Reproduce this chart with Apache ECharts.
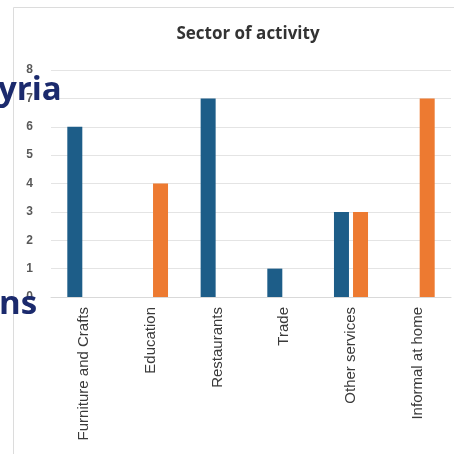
<!DOCTYPE html>
<html>
<head>
<meta charset="utf-8">
<script src="https://cdn.jsdelivr.net/npm/echarts@6/dist/echarts.min.js"></script>
<style>html,body{margin:0;padding:0;background:#fff}#c{width:454px;height:454px}</style>
</head>
<body>
<div id="c"></div>
<script>
const categories = ['Furniture and Crafts', 'Education', 'Restaurants', 'Trade', 'Other services', 'Informal at home'];
const seriesA = [6, 0, 7, 1, 3, 0];
const seriesB = [0, 4, 0, 0, 3, 7];
const yTicks = [0, 1, 2, 3, 4, 5, 6, 7, 8];

const chart = echarts.init(document.getElementById('c'), null, {renderer: 'canvas'});
chart.setOption({
  backgroundColor: '#ffffff',
  animation: false,
  title: {
    text: 'Sector of activity',
    left: 243, top: 21, textAlign: 'center',
    textStyle: {fontFamily: 'Open Sans', fontWeight: 'bold', fontSize: 17, color: '#333333'}
  },
  grid: {left: 51, right: 3, top: 70, bottom: 157},
  xAxis: {
    type: 'category', data: categories,
    axisLine: {lineStyle: {color: '#d9d9d9'}},
    axisTick: {show: false},
    axisLabel: {rotate: 90, margin: 10, fontFamily: 'Liberation Sans', fontSize: 15, color: '#3a3a3a', interval: 0}
  },
  yAxis: {
    type: 'value', min: yTicks[0], max: yTicks[yTicks.length - 1], interval: 1,
    axisLine: {show: false}, axisTick: {show: false},
    axisLabel: {margin: 18, fontFamily: 'Liberation Sans', fontWeight: 'bold', fontSize: 12, color: '#595959'},
    splitLine: {lineStyle: {color: '#e4e4e4'}}
  },
  series: [
    {type: 'bar', data: seriesA, barWidth: 15, barGap: '27%', itemStyle: {color: '#1d5d88'}},
    {type: 'bar', data: seriesB, barWidth: 15, itemStyle: {color: '#ed7a31'}}
  ],
  graphic: [
    {type: 'rect', z: -1, shape: {x: 13.5, y: 7.5, width: 460, height: 460}, style: {fill: 'none', stroke: '#dcdcdc', lineWidth: 1}},
    {type: 'text', left: -2, top: 74, z: 100, style: {text: 'yria', font: 'bold 33px "Open Sans"', fill: '#1b2a6d'}},
    {type: 'text', left: -1, top: 288, z: 100, style: {text: 'ns', font: 'bold 33px "Open Sans"', fill: '#1b2a6d'}}
  ]
});
</script>
</body>
</html>
